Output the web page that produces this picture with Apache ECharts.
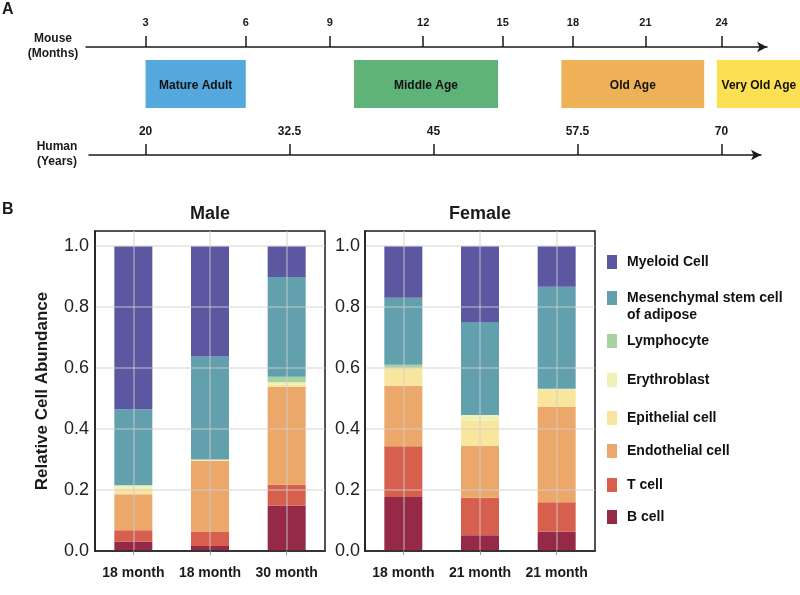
<!DOCTYPE html>
<html>
<head>
<meta charset="utf-8">
<script src="https://cdn.jsdelivr.net/npm/echarts@6/dist/echarts.min.js"></script>
<style>
html, body { margin: 0; padding: 0; background: #fff; }
#main { width: 800px; height: 595px; }
</style>
</head>
<body>
<div id="main"></div>
<script>
// panel A - timeline, everything placed on a human-years scale
const humanYears = [20, 32.5, 45, 57.5, 70]
const mouseMonths = [3, 6, 9, 12, 15, 18, 21, 24]
const mouseInHumanYears = [20, 28.7, 36.0, 44.1, 51.0, 57.1, 63.4, 70.0]
const stageNames = ['Mature Adult', 'Middle Age', 'Old Age', 'Very Old Age']
const stageStart = [20, 38.1, 56.1, 69.6]
const stageEnd = [28.7, 50.6, 68.5, 76.9]
const stageColors = ['#55a8dd', '#5fb378', '#eeb158', '#fcdf52']

// panel B - relative cell abundance, 3 male samples then 3 female samples
const maleSamples = ['18 month', '18 month', '30 month']
const femaleSamples = ['18 month', '21 month', '21 month']
const cellTypes = ['Myeloid Cell', 'Mesenchymal stem cell of adipose', 'Lymphocyte', 'Erythroblast',
  'Epithelial cell', 'Endothelial cell', 'T cell', 'B cell']
const cellColors = ['#5b57a1', '#63a0ae', '#a8d3a0', '#eef0b4', '#f9e59e', '#eca86b', '#d65f4e', '#952a48']
const myeloid = [0.535, 0.362, 0.101, 0.169, 0.249, 0.133]
const mesenchymal = [0.249, 0.338, 0.327, 0.220, 0.305, 0.335]
const lymphocyte = [0, 0, 0.018, 0.010, 0, 0]
const erythroblast = [0.015, 0.005, 0.008, 0.004, 0.018, 0.004]
const epithelial = [0.015, 0, 0.007, 0.055, 0.083, 0.055]
const endothelial = [0.118, 0.233, 0.322, 0.198, 0.170, 0.313]
const tCell = [0.038, 0.046, 0.068, 0.167, 0.123, 0.097]
const bCell = [0.030, 0.016, 0.149, 0.177, 0.052, 0.063]
const yTicks = [0, 0.2, 0.4, 0.6, 0.8, 1.0]

const cellValues = [myeloid, mesenchymal, lymphocyte, erythroblast, epithelial, endothelial, tCell, bCell]
const legendCenters = [262, 298, 341, 380, 418, 451, 485, 517]

const FONT = 'Liberation Sans, Arial, sans-serif'
const INK = '#1a1a1a'

const chart = echarts.init(document.getElementById('main'))

const timelineAxis = (min, max, values, fmt, size, margin) => ({
  type: 'value',
  position: 'top',
  min: min,
  max: max,
  axisLine: { show: true, onZero: false, symbol: ['none', 'arrow'], symbolSize: [8, 10], lineStyle: { color: INK, width: 1.5 } },
  axisTick: { show: true, customValues: values, length: 11, lineStyle: { color: INK, width: 1.5 } },
  axisLabel: { customValues: values, formatter: fmt, fontWeight: 'bold', fontSize: size, color: INK, margin: margin },
  splitLine: { show: false }
})

const abundanceX = (gi, cats) => ({
  type: 'category',
  gridIndex: gi,
  data: cats,
  z: 3,
  axisLine: { lineStyle: { color: INK, width: 1.5 } },
  axisTick: { show: true, interval: 0, alignWithLabel: true, length: 4, lineStyle: { color: '#999' } },
  axisLabel: { interval: 0, fontWeight: 'bold', fontSize: 14, color: INK, margin: 15 },
  splitLine: { show: true, interval: 0, alignWithLabel: true, lineStyle: { color: 'rgba(205,205,205,0.6)', width: 1.5 } }
})

const abundanceY = (gi, margin, name) => ({
  type: 'value',
  gridIndex: gi,
  min: 0,
  max: 1.05,
  interval: 0.2,
  z: 3,
  name: name,
  nameLocation: 'middle',
  nameGap: 44,
  nameTextStyle: { fontWeight: 'bold', fontSize: 17, color: INK },
  axisLine: { show: true, lineStyle: { color: INK, width: 1.5 } },
  axisTick: { show: false },
  axisLabel: { fontSize: 18, color: '#222', margin: margin, showMaxLabel: false,
    formatter: v => yTicks.includes(Math.round(v * 10) / 10) ? v.toFixed(1) : '' },
  splitLine: { show: true, showMaxLine: false, lineStyle: { color: 'rgba(205,205,205,0.6)', width: 1.5 } }
})

const series = [{
  type: 'custom',
  xAxisIndex: 0,
  yAxisIndex: 0,
  clip: false,
  silent: true,
  data: stageStart.map((s, i) => [s, stageEnd[i]]),
  encode: { x: [0, 1] },
  renderItem: (params, api) => {
    const p0 = api.coord([api.value(0), 1])
    const p1 = api.coord([api.value(1), 0])
    return {
      type: 'rect',
      shape: { x: p0[0], y: p0[1], width: p1[0] - p0[0], height: p1[1] - p0[1] },
      style: { fill: stageColors[params.dataIndex] },
      textContent: { style: { text: stageNames[params.dataIndex], fontWeight: 'bold', fontSize: 12, fill: '#111', fontFamily: FONT } },
      textConfig: { position: 'inside', offset: [0, 2] }
    }
  }
}]

// stack from the bottom (B cell) upwards
for (let k = cellTypes.length - 1; k >= 0; --k) {
  const vals = cellValues[k]
  series.push({
    type: 'bar', name: cellTypes[k], stack: 'male', xAxisIndex: 2, yAxisIndex: 2,
    barWidth: 38, itemStyle: { color: cellColors[k] }, data: vals.slice(0, 3)
  })
  series.push({
    type: 'bar', name: cellTypes[k], stack: 'female', xAxisIndex: 3, yAxisIndex: 3,
    barWidth: 38, itemStyle: { color: cellColors[k] }, data: vals.slice(3, 6)
  })
}

const legends = cellTypes.map((name, i) => {
  const multi = name.indexOf(' of ') > 0
  return {
    data: [name],
    orient: 'vertical',
    left: 607,
    top: legendCenters[i] - (multi ? 25.5 : 8.5),
    padding: 0,
    icon: 'rect',
    itemWidth: 10,
    itemHeight: 14,
    selectedMode: false,
    formatter: n => multi ? '\n' + n.replace(' of ', '\nof ') : n,
    textStyle: { fontWeight: 'bold', fontSize: 14, color: '#111', lineHeight: 17, padding: [0, 0, 0, 5] }
  }
})

const option = {
  animation: false,
  textStyle: { fontFamily: FONT },
  title: [
    { text: 'A', left: 2, top: 2, padding: 0, textStyle: { fontSize: 16, fontWeight: 'bold', color: INK } },
    { text: 'B', left: 2, top: 202, padding: 0, textStyle: { fontSize: 16, fontWeight: 'bold', color: INK } },
    { text: 'Mouse\n(Months)', left: 53, top: 31, padding: 0, textAlign: 'center', textStyle: { fontSize: 12, fontWeight: 'bold', color: INK, lineHeight: 15 } },
    { text: 'Human\n(Years)', left: 57, top: 139, padding: 0, textAlign: 'center', textStyle: { fontSize: 12, fontWeight: 'bold', color: INK, lineHeight: 15 } },
    { text: 'Male', left: 210, top: 205, padding: 0, textAlign: 'center', textStyle: { fontSize: 18, fontWeight: 'bold', color: INK } },
    { text: 'Female', left: 480, top: 205, padding: 0, textAlign: 'center', textStyle: { fontSize: 18, fontWeight: 'bold', color: INK } }
  ],
  legend: legends,
  grid: [
    { left: 86, right: 33, top: 60, height: 48 },
    { left: 89, right: 39, top: 155, height: 10 },
    { left: 95, right: 475, top: 231, bottom: 44, show: true, borderColor: INK, borderWidth: 1.5 },
    { left: 365, right: 205, top: 231, bottom: 44, show: true, borderColor: INK, borderWidth: 1.5 }
  ],
  xAxis: [
    Object.assign(timelineAxis(14.83, 73.95, mouseInHumanYears,
      v => mouseMonths[mouseInHumanYears.indexOf(v)], 11, 19), { gridIndex: 0, offset: 13 }),
    Object.assign(timelineAxis(15.09, 73.43, humanYears, v => String(v), 12, 17), { gridIndex: 1 }),
    abundanceX(2, maleSamples),
    abundanceX(3, femaleSamples)
  ],
  yAxis: [
    { type: 'value', gridIndex: 0, min: 0, max: 1, show: false },
    { type: 'value', gridIndex: 1, min: 0, max: 1, show: false },
    abundanceY(2, 6, 'Relative Cell Abundance'),
    abundanceY(3, 5, '')
  ],
  series: series
}

chart.setOption(option)
</script>
</body>
</html>
